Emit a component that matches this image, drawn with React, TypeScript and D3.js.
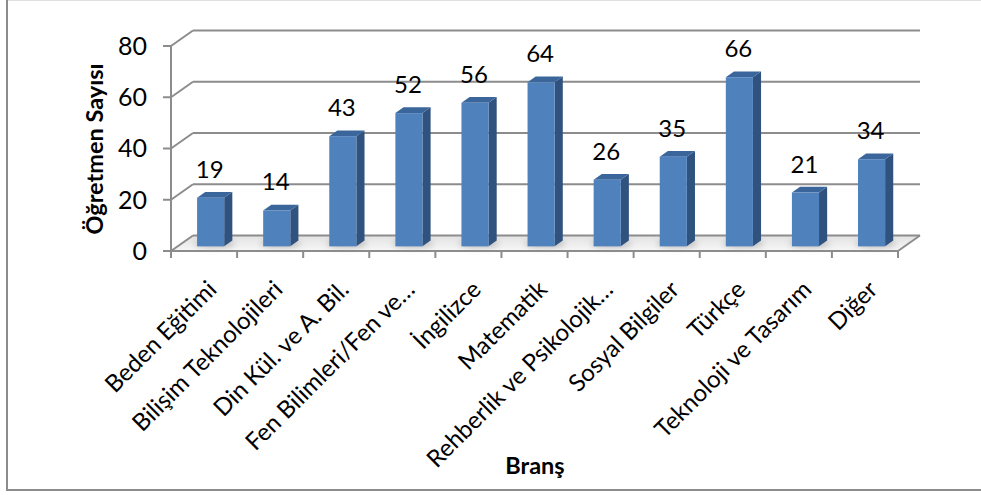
import * as d3 from "d3";

const categories = [
  "Beden Eğitimi",
  "Bilişim Teknolojileri",
  "Din Kül. ve A. Bil.",
  "Fen Bilimleri/Fen ve…",
  "İngilizce",
  "Matematik",
  "Rehberlik ve Psikolojik…",
  "Sosyal Bilgiler",
  "Türkçe",
  "Teknoloji ve Tasarım",
  "Diğer",
];
const values = [19, 14, 43, 52, 56, 64, 26, 35, 66, 21, 34];
const yTicks = [0, 20, 40, 60, 80];

const W = 981;
const H = 495;
const FONT = "Lato, 'Open Sans', 'Noto Sans', sans-serif";

// depth of the 3d box (back wall offset)
const DX = 22;
const DY = -15.5;
const barT0 = 0.3; // where bars start in depth
const barT1 = 0.37; // bar depth

const App = () => {
  const x = d3.scaleBand<string>().domain(categories).range([171, 898]).padding(0);
  const y = d3.scaleLinear().domain([0, 80]).range([251, 46]);
  const bw = x.bandwidth() * 0.41;
  const grid = "#8c8c8c";

  const floor = [
    [x.range()[0], y(0)],
    [x.range()[1], y(0)],
    [x.range()[1] + DX, y(0) + DY],
    [x.range()[0] + DX, y(0) + DY],
  ];

  return (
    <svg
      width={W}
      height={H}
      style={{ position: "absolute", left: 0, top: 0, background: "#fff" }}
    >
      <defs>
        <linearGradient id="floorG" x1="0" y1="0" x2="0" y2="1">
          <stop offset="0" stopColor="#e2e2e2" />
          <stop offset="1" stopColor="#f7f7f7" />
        </linearGradient>
        <filter id="blur" x="-50%" y="-200%" width="200%" height="500%">
          <feGaussianBlur stdDeviation="3" />
        </filter>
      </defs>

      {/* outer frame */}
      <line x1={7} y1={0.5} x2={W} y2={0.5} stroke="#e0e0e0" strokeWidth={1} />
      <line x1={7} y1={0} x2={7} y2={490} stroke="#8c8c8c" strokeWidth={2} />
      <line x1={6} y1={490} x2={W} y2={490} stroke="#8c8c8c" strokeWidth={2} />

      {/* floor */}
      <polygon points={floor.map((p) => p.join(",")).join(" ")} fill="url(#floorG)" />

      {/* back wall + side wall gridlines */}
      {yTicks.map((t) => (
        <g key={t}>
          <line
            x1={171 + DX}
            x2={898 + DX}
            y1={y(t) + DY}
            y2={y(t) + DY}
            stroke={grid}
            strokeWidth={2}
          />
          <line x1={171} x2={171 + DX} y1={y(t)} y2={y(t) + DY} stroke={grid} strokeWidth={2} />
        </g>
      ))}

      {/* shadows under bars */}
      {values.map((v, i) => {
        const bx = (x(categories[i]) as number) + x.bandwidth() / 2 - bw / 2 + barT0 * DX;
        const by = y(0) + barT0 * DY;
        return (
          <ellipse
            key={"s" + i}
            cx={bx + bw / 2 + 4}
            cy={by - 3}
            rx={bw * 0.75}
            ry={4}
            fill="#b8b8b8"
            filter="url(#blur)"
          />
        );
      })}

      {/* floor front edges */}
      <line x1={171} x2={898} y1={y(0)} y2={y(0)} stroke={grid} strokeWidth={2} />
      <line x1={898} x2={898 + DX} y1={y(0)} y2={y(0) + DY} stroke={grid} strokeWidth={2} />

      {/* bars */}
      {values.map((v, i) => {
        const bx = (x(categories[i]) as number) + x.bandwidth() / 2 - bw / 2 + barT0 * DX;
        const yb = y(0) + barT0 * DY;
        const yt = y(v) + barT0 * DY;
        const dx = barT1 * DX;
        const dy = barT1 * DY;
        return (
          <g key={"b" + i}>
            <polygon
              points={`${bx + bw},${yt} ${bx + bw + dx},${yt + dy} ${bx + bw + dx},${yb + dy} ${bx + bw},${yb}`}
              fill="#30527e"
            />
            <polygon
              points={`${bx},${yt} ${bx + dx},${yt + dy} ${bx + bw + dx},${yt + dy} ${bx + bw},${yt}`}
              fill="#3b669c"
            />
            <rect x={bx} y={yt} width={bw} height={yb - yt} fill="#4f81bd" />
            <text
              x={bx + bw / 2 - 1}
              y={yt - 20}
              textAnchor="middle"
              fontFamily={FONT}
              fontSize={24}
              fill="#000"
            >
              {v}
            </text>
          </g>
        );
      })}

      {/* y axis */}
      <line x1={171} x2={171} y1={y(80)} y2={y(0)} stroke={grid} strokeWidth={2} />
      {yTicks.map((t) => (
        <g key={"yt" + t}>
          <line x1={163} x2={171} y1={y(t)} y2={y(t)} stroke={grid} strokeWidth={2} />
          <text
            x={147}
            y={y(t)}
            dy="0.35em"
            textAnchor="end"
            fontFamily={FONT}
            fontSize={25}
            fill="#000"
          >
            {t}
          </text>
        </g>
      ))}

      {/* x axis ticks */}
      {d3.range(categories.length + 1).map((i) => {
        const xx = 171 + i * x.step();
        return <line key={"xt" + i} x1={xx} x2={xx} y1={y(0)} y2={y(0) + 7} stroke={grid} strokeWidth={2} />;
      })}

      {/* category labels */}
      {categories.map((c) => {
        const cx = (x(c) as number) + x.bandwidth() / 2 + 14;
        const cy = 291;
        return (
          <text
            key={c}
            transform={`translate(${cx},${cy}) rotate(-45)`}
            textAnchor="end"
            fontFamily={FONT}
            fontSize={24}
            fill="#000"
          >
            {c}
          </text>
        );
      })}

      {/* axis titles */}
      <text
        transform={`translate(103,149) rotate(-90)`}
        textAnchor="middle"
        fontFamily={FONT}
        fontSize={23.5}
        fontWeight="bold"
        fill="#000"
      >
        Öğretmen Sayısı
      </text>
      <text x={535} y={474} textAnchor="middle" fontFamily={FONT} fontSize={23.5} fontWeight="bold" fill="#000">
        Branş
      </text>
    </svg>
  );
};

export default App;
